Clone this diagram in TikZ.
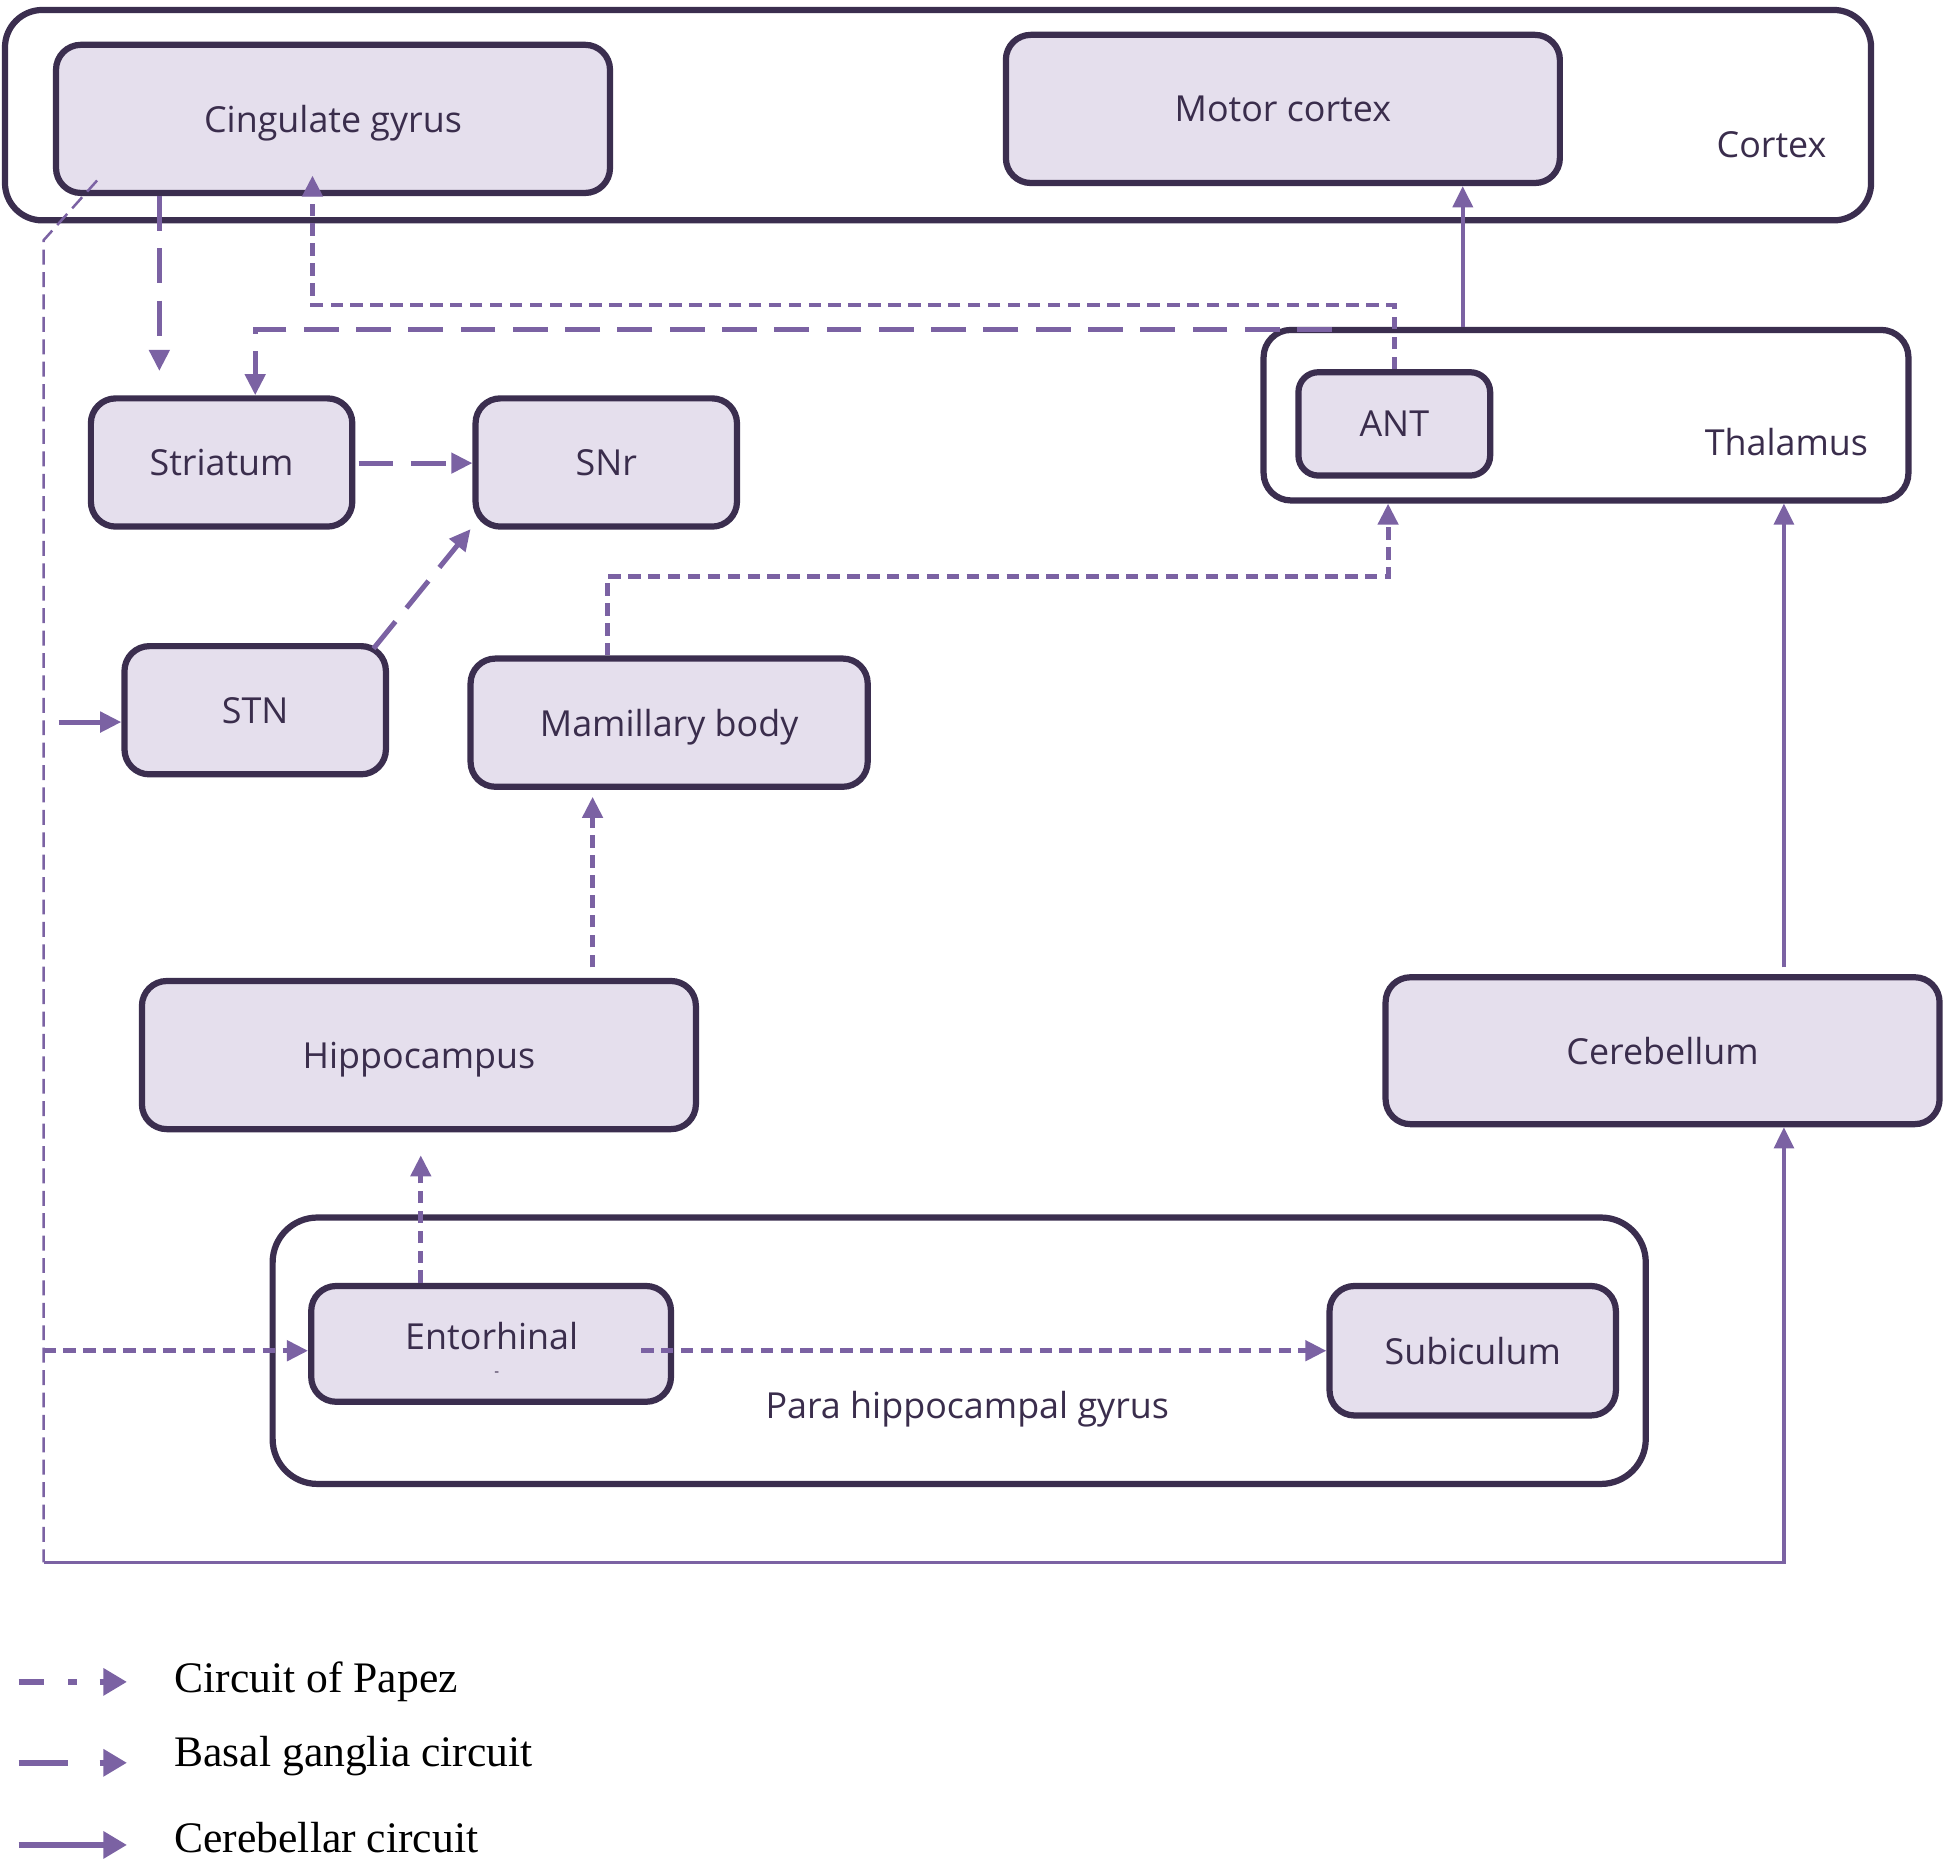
\documentclass[tikz,border=0pt]{standalone}
\usepackage{fontspec}
\setmainfont{Open Sans}
\newfontfamily\legfont{Liberation Serif}
\usetikzlibrary{arrows.meta}
\definecolor{bord}{HTML}{3B2E4F}
\definecolor{fillc}{HTML}{E5DFED}
\definecolor{conn}{HTML}{7B62A3}
\definecolor{txt}{HTML}{3A2D4C}
\begin{document}
\begin{tikzpicture}[x=1pt,y=-1pt,
  box/.style={draw=bord, fill=fillc, line width=5pt, rounded corners=20pt, inner sep=0pt, text=txt, text depth=0pt, font=\fontsize{28.8}{34}\selectfont},
  grp/.style={draw=bord, fill=white, line width=5pt, rounded corners=30pt, inner sep=0pt},
  lab/.style={text=txt, font=\fontsize{28.8}{34}\selectfont, inner sep=0pt},
  con/.style={draw=conn, line width=4pt, -{Triangle[length=17pt,width=16pt]}},
  bgl/.style={con, dash pattern=on 28pt off 14pt},
  pap/.style={con, dash pattern=on 10pt off 6pt},
  cbl/.style={con, line width=3pt},
  thinpap/.style={draw=conn, line width=2pt, dash pattern=on 12pt off 6pt},
  legtxt/.style={anchor=west, inner sep=0pt, font=\legfont\fontsize{35}{40}\selectfont},
  legline/.style={draw=conn, line width=5pt},
  leghead/.style={draw=conn, line width=5pt, -{Triangle[length=19pt,width=21pt]}}
]
\useasboundingbox (0,0) rectangle (1568,1494);

% groups
\node[grp, minimum width=1499, minimum height=169] (cortex) at (753.5,92.5) {};
\node[grp, rounded corners=22pt, minimum width=518, minimum height=137] (thal) at (1274,333.5) {};
\node[grp, rounded corners=36pt, minimum width=1103, minimum height=214] (para) at (770.5,1085) {};
\node[lab] (cortexlab) at (1423,116) {Cortex};
\node[lab] (thallab) at (1435,355) {Thalamus};
\node[lab] (paralab) at (777,1132) {Para hippocampal gyrus};

% boxes
\node[box, minimum width=445, minimum height=119] (cing) at (267.5,95.5) {Cingulate gyrus};
\node[box, minimum width=445, minimum height=119] (motor) at (1030.5,87.5) {Motor cortex};
\node[box, rounded corners=16pt, minimum width=154, minimum height=83] (ant) at (1120,340.5) {ANT};
\node[box, minimum width=210, minimum height=103] (stri) at (178,371.5) {Striatum};
\node[box, minimum width=210, minimum height=103] (snr) at (487,371.5) {SNr};
\node[box, minimum width=210, minimum height=103] (stn) at (205,570.5) {STN};
\node[box, minimum width=319, minimum height=103] (mam) at (537.5,580.5) {Mamillary body};
\node[box, minimum width=445, minimum height=119] (hip) at (336.5,847.5) {Hippocampus};
\node[box, minimum width=445, minimum height=118] (cer) at (1335.5,844) {Cerebellum};
\node[box, minimum width=289, minimum height=93] (ento) at (394.5,1079.5) {};
\node[lab] (entotxt) at (395,1073) {Entorhinal};
\node[lab, font=\fontsize{12}{14}\selectfont] (entodot) at (399,1104) {-};
\node[box, minimum width=230, minimum height=104] (subi) at (1183,1085) {Subiculum};

% coordinates
\coordinate (p1) at (128,298);
\coordinate (p2a) at (1070,265);
\coordinate (p2b) at (205,265);
\coordinate (p3a) at (1120,245);
\coordinate (p3b) at (251,245);
\coordinate (p3c) at (251,141);
\coordinate (p6a) at (488,463);
\coordinate (p6b) at (1115,463);
\coordinate (p7a) at (476,777);
\coordinate (p7b) at (476,640);
\coordinate (p8a) at (338,928);
\coordinate (p9a) at (515,1085);
\coordinate (p10a) at (78,145);
\coordinate (p10b) at (35,193);
\coordinate (p10c) at (35,1255);
\coordinate (p10d) at (35,1085);
\coordinate (p11) at (1433,1255);
\coordinate (p12) at (1433,777);
\coordinate (p13) at (1175,265);
\coordinate (p14) at (47,580);
\coordinate (p5a) at (300,521);
\coordinate (p5b) at (378,425);
\coordinate (p4a) at (288,372);

% basal ganglia
\draw[bgl] (cing.south -| p1) -- (p1);
\draw[bgl] (p2a) -- (p2b) -- (stri.north -| p2b);
\draw[bgl] (p4a) -- (snr.west |- p4a);
\draw[bgl] (p5a) -- (p5b);
\draw[cbl, line width=4pt] (p14) -- (stn.west |- p14);

% Papez
\draw[pap] (ant.north) -- (p3a) -- (p3b) -- (p3c);
\draw[pap] (mam.north -| p6a) -- (p6a) -- (p6b) -- (thal.south -| p6b);
\draw[pap] (p7a) -- (p7b);
\draw[pap] (ento.north -| p8a) -- (p8a);
\draw[pap] (p9a) -- (subi.west |- p9a);
\draw[thinpap] (p10a) -- (p10b) -- (p10c);
\draw[pap] (p10d) -- (ento.west |- p10d);

% cerebellar
\draw[cbl, line width=2.5pt] (p10c) -- (p11) -- (cer.south -| p11);
\draw[cbl] (p12) -- (thal.south -| p12);
\draw[cbl] (thal.north -| p13) -- (motor.south -| p13);

% legend
\coordinate (l1a) at (15,1351); \coordinate (l1b) at (35,1351);
\coordinate (l1c) at (55,1351); \coordinate (l1d) at (62,1351);
\coordinate (l1e) at (80,1351); \coordinate (l1f) at (102,1351);
\draw[legline] (l1a) -- (l1b);
\draw[legline] (l1c) -- (l1d);
\draw[leghead] (l1e) -- (l1f);
\node[legtxt] (leg1) at (140,1351) {Circuit of Papez};
\coordinate (l2a) at (15,1416); \coordinate (l2b) at (55,1416);
\coordinate (l2e) at (80,1416); \coordinate (l2f) at (102,1416);
\draw[legline] (l2a) -- (l2b);
\draw[leghead] (l2e) -- (l2f);
\node[legtxt] (leg2) at (140,1411) {Basal ganglia circuit};
\coordinate (l3a) at (15,1482); \coordinate (l3f) at (102,1482);
\draw[leghead] (l3a) -- (l3f);
\node[legtxt] (leg3) at (140,1476) {Cerebellar circuit};
\end{tikzpicture}
\end{document}
